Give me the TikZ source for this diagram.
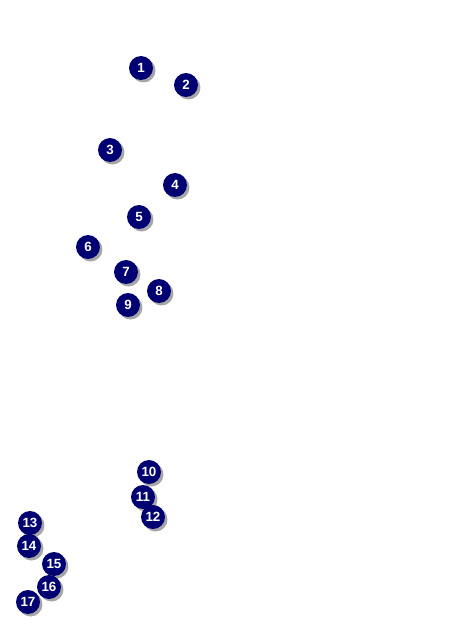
\documentclass[tikz,border=0pt]{standalone}
\usepackage{fontspec}
\setsansfont{Liberation Sans}
\usepackage{tikz}
\usetikzlibrary{shadows}

\begin{document}
\begin{tikzpicture}[
    x=0.02cm, y=-0.02cm,
    marker/.style={circle, draw=none, fill=blue!45!black, inner sep=0pt, minimum size=0.48cm,
        text=white, font=\fontsize{7.6}{8}\selectfont\sffamily\bfseries,
        drop shadow={shadow xshift=0.05cm, shadow yshift=-0.05cm, fill=gray!70, opacity=1}}
]
\useasboundingbox (0,0) rectangle (451,636);

% upper group
\node[marker] (m1) at (141,68) {1};
\node[marker] (m2) at (186,85) {2};
\node[marker] (m3) at (110,150) {3};
\node[marker] (m4) at (175,185) {4};
\node[marker] (m5) at (139,217) {5};
\node[marker] (m6) at (88,247) {6};
\node[marker] (m7) at (126,272) {7};
\node[marker] (m8) at (159,291) {8};
\node[marker] (m9) at (128,305) {9};

% middle group
\node[marker] (m10) at (149,472) {10};
\node[marker] (m11) at (143,497) {11};
\node[marker] (m12) at (153,517) {12};

% lower left group
\node[marker] (m13) at (30,523) {13};
\node[marker] (m14) at (29,546) {14};
\node[marker] (m15) at (54,564) {15};
\node[marker] (m16) at (49,587) {16};
\node[marker] (m17) at (28,602) {17};

\end{tikzpicture}
\end{document}
